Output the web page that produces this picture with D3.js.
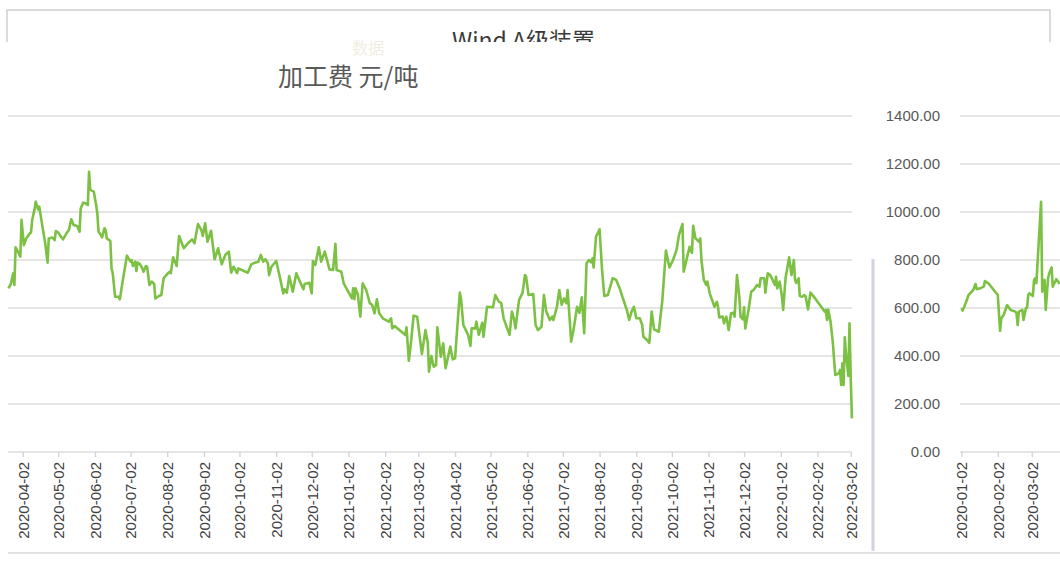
<!DOCTYPE html>
<html>
<head>
<meta charset="utf-8">
<script src="https://cdn.jsdelivr.net/npm/d3@7"></script>
<style>
  html, body { margin: 0; padding: 0; background: #fff; }
  svg { display: block; }
</style>
</head>
<body>
<div id="chart"></div>
<script>
// ---- data ----
const title = '加工费 元/吨'
const headerText = 'Wind A级装置'
const yTicks = [0, 200, 400, 600, 800, 1000, 1200, 1400]

const mainTicks = [
  '2020-04-02', '2020-05-02', '2020-06-02', '2020-07-02', '2020-08-02', '2020-09-02',
  '2020-10-02', '2020-11-02', '2020-12-02', '2021-01-02', '2021-02-02', '2021-03-02',
  '2021-04-02', '2021-05-02', '2021-06-02', '2021-07-02', '2021-08-02', '2021-09-02',
  '2021-10-02', '2021-11-02', '2021-12-02', '2022-01-02', '2022-02-02', '2022-03-02'
]
const sideTicks = ['2020-01-02', '2020-02-02', '2020-03-02']

// main series, split by year (month-day)
const days2020 = [
  '03-21','03-23','03-25','03-26','03-27','03-29','03-31','04-01','04-03','04-05',
  '04-08','04-09','04-10','04-12','04-13','04-15','04-16','04-18','04-21','04-23',
  '04-24','04-27','04-29','04-30','05-02','05-06','05-09','05-11','05-13','05-15',
  '05-18','05-20','05-21','05-23','05-25','05-27','05-28','05-29','06-01','06-03',
  '06-04','06-05','06-07','06-08','06-10','06-11','06-12','06-15','06-16','06-17',
  '06-19','06-22','06-23','06-26','06-29','07-02','07-03','07-04','07-06','07-07',
  '07-08','07-10','07-12','07-13','07-15','07-16','07-18','07-20','07-22','07-23',
  '07-26','07-28','07-30','08-02','08-04','08-05','08-07','08-10','08-12','08-16',
  '08-20','08-23','08-25','08-28','08-31','09-01','09-03','09-05','09-08','09-11',
  '09-14','09-17','09-20','09-23','09-25','09-27','09-30','10-01','10-09','10-12',
  '10-15','10-18','10-20','10-22','10-24','10-26','10-27','10-29','11-02','11-05',
  '11-08','11-09','11-11','11-13','11-16','11-19','11-22','11-25','11-26','11-30',
  '12-02','12-03','12-05','12-08','12-10','12-13','12-17','12-20','12-22','12-23',
  '12-27','12-29'
]
const values2020 = [
  682,700,745,696,853,835,814,967,862,890,
  911,914,967,1011,1043,1011,1022,960,870,789,
  890,894,883,921,914,886,911,925,970,946,
  942,918,1015,1039,1036,1029,1168,1092,1085,1029,
  995,918,904,894,932,925,890,879,765,745,
  647,647,636,730,818,793,800,775,793,754,
  789,783,765,751,775,772,696,710,700,640,
  650,654,724,742,751,745,811,775,900,849,
  872,886,870,950,922,900,953,876,922,803,
  849,782,821,835,747,772,745,765,747,782,
  789,793,821,793,803,786,737,772,796,730,
  661,678,664,733,668,745,710,678,700,705,
  661,796,779,853,793,835,761,758,867,758,
  751,703
]

const days2021 = [
  '01-01','01-05','01-06','01-07','01-08','01-10','01-12','01-14',
  '01-17','01-20','01-22','01-24','01-26','01-28','01-31','02-05','02-07','02-08',
  '02-10','02-14','02-19','02-20','02-22','02-24','02-26','03-01','03-05','03-08',
  '03-10','03-11','03-13','03-15','03-17','03-18','03-21','03-23','03-25','03-29',
  '03-31','04-02','04-06','04-07','04-09','04-13','04-15','04-16','04-19','04-20',
  '04-22','04-25','04-26','04-29','05-04','05-06','05-09','05-11','05-13','05-16',
  '05-18','05-20','05-22','05-23','05-26','05-29','05-31','06-01','06-03','06-07',
  '06-09','06-11','06-14','06-16','06-18','06-21','06-23','06-24','06-27','06-29',
  '07-01','07-03','07-05','07-06','07-08','07-09','07-11','07-14','07-16','07-18',
  '07-20','07-22','07-24','07-26','07-27','07-28','07-30','08-02','08-04','08-06',
  '08-09','08-13','08-16','08-19','08-22','08-25','08-27','08-29','08-31','09-02',
  '09-05','09-07','09-08','09-11','09-13','09-15','09-17','09-21','09-24','09-27',
  '09-30','10-03','10-06','10-08','10-11','10-12','10-15','10-17','10-19','10-20',
  '10-22','10-25','10-26','10-27','10-29','10-31','11-01','11-03','11-05','11-07',
  '11-09','11-10','11-11','11-14','11-15','11-17','11-19','11-21','11-23','11-24',
  '11-26','11-28','11-29','12-01','12-02','12-03','12-06','12-08','12-10','12-13',
  '12-15','12-16','12-19','12-20','12-22','12-24','12-26','12-28','12-29','12-30'
]
const values2021 = [
  675,640,682,637,682,654,564,703,
  675,620,613,578,636,578,557,543,557,515,
  525,508,488,520,380,467,568,564,408,508,
  453,335,400,355,363,520,397,453,349,439,
  386,390,664,640,529,488,442,515,515,543,
  488,539,480,605,603,654,626,620,557,515,
  488,585,550,515,633,664,737,730,654,658,
  529,508,522,654,585,550,564,550,605,675,
  613,640,620,675,536,460,508,605,580,645,
  495,786,800,790,807,768,897,928,765,650,
  654,724,717,682,636,592,550,585,605,557,
  557,529,480,467,455,585,511,501,633,839,
  769,800,842,904,950,751,814,855,830,942,
  890,876,890,800,717,696,710,661,633,605,
  626,605,561,564,536,564,508,578,580,564,
  737,645,564,553,603,515,599,668,675,696,
  689,724,724,664,745,737,717,696,730,682
]

const days2022 = [
  '01-01','01-03','01-04','01-06','01-09','01-11','01-13','01-14','01-15','01-17',
  '01-18','01-20','01-22','01-23','01-25','01-27','01-31','02-03','02-06','02-08',
  '02-09','02-10','02-11','02-13','02-15','02-16','02-17','02-20','02-21','02-22',
  '02-23','02-24','02-25','02-26','02-28','03-01','03-02','03-03'
]
const values2022 = [
  710,647,592,724,811,737,800,717,705,724,
  650,647,654,647,594,664,640,620,599,585,
  592,550,594,543,453,383,321,328,342,279,
  370,279,478,411,317,536,314,140
]

// second (cropped) chart on the right, 2020
const sideDays = [
  '01-02','01-03','01-06','01-08','01-12','01-14','01-15','01-18','01-21','01-22',
  '01-25','02-02','02-04','02-05','02-07','02-10','02-13','02-17','02-18','02-19',
  '02-20','02-23','02-24','02-26','02-27','02-28','02-29','03-03','03-04','03-05',
  '03-06','03-10','03-11','03-13','03-14','03-16','03-17','03-19','03-20','03-23',
  '03-26'
]
const sideValues = [
  599,589,626,654,675,700,678,682,689,712,
  703,654,505,557,571,612,592,585,578,529,
  585,592,550,599,601,654,661,650,717,724,
  703,1043,668,717,592,724,745,769,689,720,
  700
]

// ---- build ----
const parse = d3.utcParse('%Y-%m-%d')
const fmt = d3.utcFormat('%Y-%m-%d')
const join = (year, days, values) => days.map((d, i) => ({ date: parse(`${year}-${d}`), value: values[i] }))

const mainData = [].concat(
  join(2020, days2020, values2020),
  join(2021, days2021, values2021),
  join(2022, days2022, values2022)
)
const sideData = join(2020, sideDays, sideValues)

const width = 1060
const height = 563
const lineColor = '#7cc143'
const gridColor = '#dcdcdc'
const labelFont = '"Liberation Sans", Arial, sans-serif'

const svg = d3.select('#chart').append('svg')
  .attr('width', width)
  .attr('height', height)

// scales
let y = d3.scaleLinear().domain([0, 1400]).range([452, 116])
let x = d3.scaleUtc()
  .domain([parse(mainTicks[0]), parse(mainTicks[mainTicks.length - 1])])
  .range([22.7, 850.7])
let xs = d3.scaleUtc()
  .domain([parse(sideTicks[0]), parse(sideTicks[2])])
  .range([961.5, 1031.7])

// top frame with cut-off header
svg.append('path')
  .attr('d', 'M7,42V10H1050V42')
  .attr('fill', 'none')
  .attr('stroke', '#cfcfcf')
  .attr('stroke-width', 1.5)

svg.append('clipPath').attr('id', 'headClip')
  .append('rect').attr('x', 0).attr('y', 0).attr('width', width).attr('height', 42)

svg.append('text')
  .attr('clip-path', 'url(#headClip)')
  .attr('x', 452).attr('y', 49)
  .attr('font-family', '"Noto Sans CJK SC", "Liberation Sans", sans-serif')
  .attr('font-size', 23)
  .attr('fill', '#3a3a3a')
  .text(headerText)

svg.append('text')
  .attr('x', 352).attr('y', 54)
  .attr('font-family', '"Noto Sans CJK SC", sans-serif')
  .attr('font-size', 16)
  .attr('fill', '#f0eedf')
  .text('数据')

// chart title
svg.append('text')
  .attr('x', 278).attr('y', 86)
  .attr('font-family', '"Noto Sans CJK SC", sans-serif')
  .attr('font-size', 25)
  .attr('fill', '#595959')
  .text(title)

// gridlines, main and side
function grid(g, x0, x1) {
  g.selectAll('line')
    .data(yTicks)
    .enter().append('line')
    .attr('x1', x0).attr('x2', x1)
    .attr('y1', d => y(d)).attr('y2', d => y(d))
    .attr('stroke', gridColor)
    .attr('stroke-width', 1.3)
}
svg.append('g').call(grid, 8, 852)
svg.append('g').call(grid, 960, width)

// side y labels
svg.append('g').selectAll('text')
  .data(yTicks)
  .enter().append('text')
  .attr('x', 940)
  .attr('y', d => y(d))
  .attr('dy', '0.35em')
  .attr('text-anchor', 'end')
  .attr('font-family', labelFont)
  .attr('font-size', 15)
  .attr('fill', '#595959')
  .text(d3.format('.2f'))

// x axes
function xAxis(scale, ticks) {
  return g => {
    g.call(d3.axisBottom(scale).tickValues(ticks.map(parse)).tickSize(5).tickSizeOuter(0).tickFormat(fmt))
    g.select('.domain').remove()
    g.selectAll('.tick line').attr('stroke', '#cfd0e6').attr('stroke-width', 1.3)
    g.selectAll('.tick text')
      .attr('transform', 'rotate(-90)')
      .attr('text-anchor', 'end')
      .attr('x', -10)
      .attr('y', 0)
      .attr('dy', '0.36em')
      .attr('font-family', labelFont)
      .attr('font-size', 15)
      .attr('fill', '#404040')
  }
}
svg.append('g').attr('transform', 'translate(0,452)').call(xAxis(x, mainTicks))
svg.append('g').attr('transform', 'translate(0,452)').call(xAxis(xs, sideTicks))

// lines
svg.append('path')
  .datum(mainData)
  .attr('fill', 'none')
  .attr('stroke', lineColor)
  .attr('stroke-width', 2.6)
  .attr('stroke-linejoin', 'round')
  .attr('d', d3.line().x(d => x(d.date)).y(d => y(d.value)))

svg.append('path')
  .datum(sideData)
  .attr('fill', 'none')
  .attr('stroke', lineColor)
  .attr('stroke-width', 2.6)
  .attr('stroke-linejoin', 'round')
  .attr('d', d3.line().x(d => xs(d.date)).y(d => y(d.value)))

// panel borders
svg.append('line')
  .attr('x1', 873).attr('x2', 873).attr('y1', 259).attr('y2', 551)
  .attr('stroke', '#d2d3de').attr('stroke-width', 3)

svg.append('line')
  .attr('x1', 8).attr('x2', width).attr('y1', 553).attr('y2', 553)
  .attr('stroke', '#d9d9d9').attr('stroke-width', 1.5)
</script>
</body>
</html>
